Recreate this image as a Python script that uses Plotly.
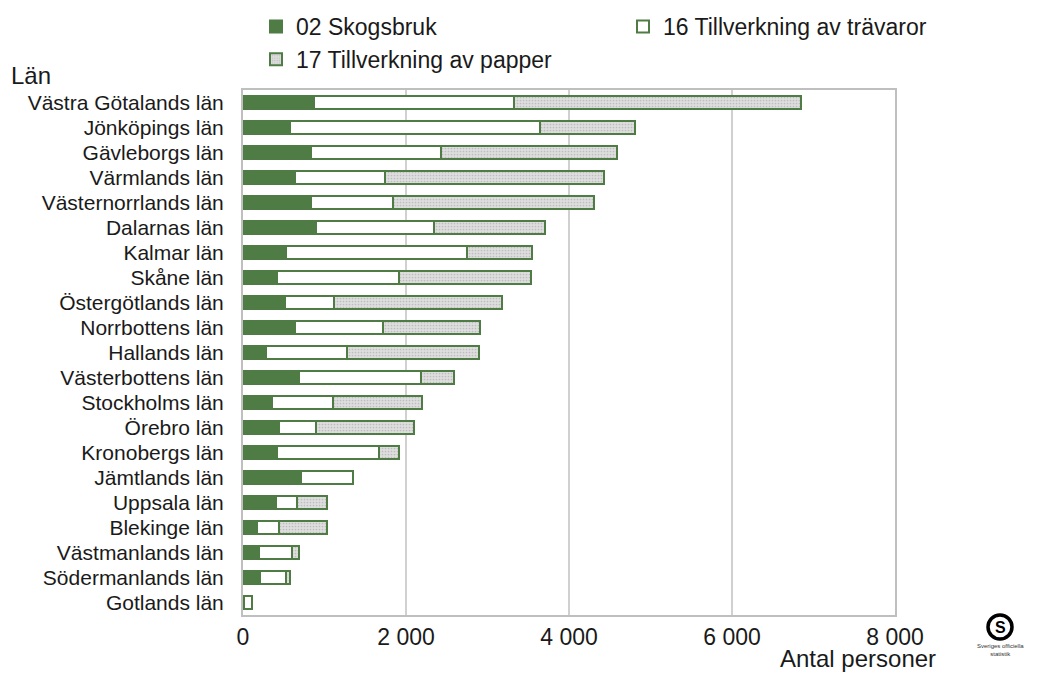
import plotly.graph_objects as go

lan = ["Västra Götalands län", "Jönköpings län", "Gävleborgs län", "Värmlands län",
       "Västernorrlands län", "Dalarnas län", "Kalmar län", "Skåne län",
       "Östergötlands län", "Norrbottens län", "Hallands län", "Västerbottens län",
       "Stockholms län", "Örebro län", "Kronobergs län", "Jämtlands län",
       "Uppsala län", "Blekinge län", "Västmanlands län", "Södermanlands län",
       "Gotlands län"]
skogsbruk = [870, 580, 830, 640, 830, 900, 530, 420, 515, 640, 280, 690,
             360, 440, 420, 710, 405, 170, 200, 210, 10]
travaror = [2450, 3060, 1600, 1100, 1010, 1440, 2220, 1500, 600, 1075, 990, 1495,
            740, 455, 1245, 645, 255, 275, 400, 315, 100]
papper = [3530, 1170, 2160, 2690, 2470, 1360, 800, 1610, 2060, 1195, 1620, 405,
          1100, 1200, 255, 0, 375, 590, 90, 50, 0]
series_names = ["02 Skogsbruk", "16 Tillverkning av trävaror", "17 Tillverkning av papper"]
tick_vals = [0, 2000, 4000, 6000, 8000]
tick_text = ["0", "2 000", "4 000", "6 000", "8 000"]

GREEN = "#4f7c45"
FONT = "Liberation Sans, Arial, sans-serif"
TXT = "#1a1a1a"

# page body adds an 8px offset; plot area lands at x 243-895, y 90-615 on screen
PL, PT, PW, PH = 235, 82, 652, 525


def px(xs):
    return (xs - 8 - PL) / PW


def py(ys):
    return (PT + PH - (ys - 8)) / PH


fig = go.Figure()
fig.add_trace(go.Bar(y=lan, x=skogsbruk, orientation="h", name=series_names[0],
                     marker=dict(color=GREEN, line=dict(color=GREEN, width=2))))
fig.add_trace(go.Bar(y=lan, x=travaror, orientation="h", name=series_names[1],
                     marker=dict(color="white", line=dict(color=GREEN, width=2))))
fig.add_trace(go.Bar(y=lan, x=papper, orientation="h", name=series_names[2],
                     marker=dict(color="#dcdcdc", line=dict(color=GREEN, width=2),
                                 pattern=dict(shape=".", fgcolor="#bdbdbd", bgcolor="#dedede",
                                              size=3, solidity=0.25, fillmode="replace"))))

fig.update_layout(
    barmode="stack",
    bargap=0.5,
    width=1036, height=665,
    margin=dict(l=PL, r=1036 - PL - PW, t=PT, b=665 - PT - PH, autoexpand=False),
    paper_bgcolor="white", plot_bgcolor="white",
    font=dict(family=FONT, color=TXT, size=21),
    showlegend=True,
    legend=dict(orientation="h", x=px(990), y=py(5), xanchor="right", yanchor="top",
                entrywidth=322, entrywidthmode="pixels",
                font=dict(size=23, family=FONT, color=TXT),
                traceorder="normal", itemwidth=30, bgcolor="rgba(0,0,0,0)"),
    xaxis=dict(range=[0, 8000], tickvals=tick_vals, ticktext=tick_text,
               showgrid=True, gridcolor="#d0d0d0", gridwidth=2,
               showline=True, linecolor="#bfbfbf", linewidth=2, mirror=True,
               zeroline=False, tickfont=dict(size=23), ticks="",
               ticklabelstandoff=0, automargin=False),
    yaxis=dict(autorange="reversed", tickmode="array", tickvals=lan, ticktext=lan,
               showline=True, linecolor="#bfbfbf", linewidth=2,
               mirror=True, ticks="", tickfont=dict(size=21), ticklabelstandoff=13,
               showgrid=False, automargin=False),
    annotations=[
        dict(text="Län", xref="paper", yref="paper", x=px(9), y=py(75),
             xanchor="left", yanchor="middle", showarrow=False,
             font=dict(size=24, family=FONT, color=TXT)),
        dict(text="Antal personer", xref="paper", yref="paper", x=px(938), y=py(674),
             xanchor="right", yanchor="bottom", showarrow=False,
             font=dict(size=24, family=FONT, color=TXT)),
        dict(text="<b>S</b>", xref="paper", yref="paper", x=px(1000),
             y=py(627), xanchor="center", yanchor="middle", showarrow=False,
             font=dict(size=16, family=FONT, color="black")),
        dict(text="Sveriges officiella<br>statistik", xref="paper", yref="paper",
             x=px(1000), y=py(641), xanchor="center",
             yanchor="top", showarrow=False,
             font=dict(size=6, family=FONT, color="#333333")),
    ],
    shapes=[
        dict(type="circle", xref="paper", yref="paper",
             x0=px(988), x1=px(1012), y0=py(639), y1=py(615),
             line=dict(color="black", width=3.5)),
    ],
)

fig.write_html("out.html")
